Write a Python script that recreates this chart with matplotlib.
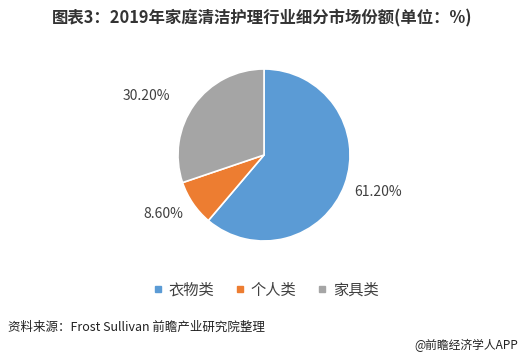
import matplotlib.pyplot as plt
import numpy as np

plt.rcParams['font.family'] = ['Noto Sans CJK SC', 'DejaVu Sans']

categories = ["衣物类", "个人类", "家具类"]
shares = [61.20, 8.60, 30.20]
value_labels = ["61.20%", "8.60%", "30.20%"]
colors = ["#5B9BD5", "#ED7D31", "#A5A5A5"]
# label placement: distance from centre (in radii) and angle shift from wedge middle
label_radius = [1.39, 1.36, 1.53]
label_shift = [2.0, -3.9, 9.0]

fig = plt.figure(figsize=(5.25, 3.62), dpi=100)
fig.patch.set_facecolor("white")

ax = fig.add_axes([178 / 525, 121 / 362, 172 / 525, 172 / 362])
wedges, _ = ax.pie(shares, colors=colors, startangle=90, counterclock=False,
                   wedgeprops=dict(edgecolor="white", linewidth=1.2))
ax.set_aspect("equal")
ax.set_xlim(-1, 1)
ax.set_ylim(-1, 1)

for w, lab, r, s in zip(wedges, value_labels, label_radius, label_shift):
    ang = np.deg2rad((w.theta1 + w.theta2) / 2 + s)
    ax.text(r * np.cos(ang), r * np.sin(ang), lab, ha="center", va="center",
            fontsize=10, color="#404040", clip_on=False)

handles = [plt.Line2D([], [], marker="s", linestyle="", markersize=5,
                      markerfacecolor=c, markeredgecolor=c) for c in colors]
fig.legend(handles, categories, loc="center", bbox_to_anchor=(266 / 525, 1 - 290 / 362),
           ncol=3, frameon=False, fontsize=11, handlelength=0.6, handletextpad=0.4,
           columnspacing=1.4, labelcolor="#404040")

fig.text(262 / 525, 1 - 18 / 362, "图表3：2019年家庭清洁护理行业细分市场份额(单位：%)",
         ha="center", va="center", fontsize=11.8, fontweight="bold", color="#333333")
fig.text(8 / 525, 1 - 327 / 362, "资料来源：Frost Sullivan 前瞻产业研究院整理",
         ha="left", va="center", fontsize=9, color="#222222")
fig.text(518 / 525, 1 - 345 / 362, "@前瞻经济学人APP",
         ha="right", va="center", fontsize=8.5, color="#222222")

fig.savefig("out.png", dpi=100)
